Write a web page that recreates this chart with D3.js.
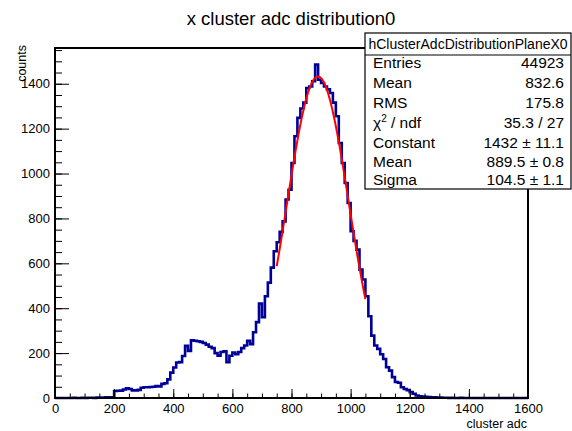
<!DOCTYPE html>
<html>
<head>
<meta charset="utf-8">
<script src="https://cdn.jsdelivr.net/npm/d3@7/dist/d3.min.js"></script>
<style>
  body { margin: 0; background: #fff; }
  svg { font-family: "Liberation Sans", Arial, Helvetica, sans-serif; }
</style>
</head>
<body>
<svg id="chart" width="572" height="431"></svg>
<script>
// histogram: 160 bins of 10 adc, from 0 to 1600
let binWidth = 10;
let binCounts = [
  0, 0, 0, 0, 0, 0, 1, 0, 0, 1,                          // 0 - 90
  0, 1, 1, 0, 2, 1, 2, 3, 2, 3,                          // 100 - 190
  31, 32, 33, 38, 43, 40, 34, 34, 36, 46,                // 200 - 290
  48, 48, 49, 50, 53, 51, 63, 66, 83, 113,               // 300 - 390
  136, 158, 160, 187, 232, 210, 257, 255, 253, 250,      // 400 - 490
  245, 238, 228, 222, 200, 189, 205, 208, 160, 188,      // 500 - 590
  202, 195, 205, 222, 234, 255, 240, 293, 338, 421,      // 600 - 690
  360, 453, 514, 581, 654, 694, 740, 787, 884, 928,      // 700 - 790
  1047, 1166, 1248, 1290, 1316, 1381, 1388, 1411, 1485, 1418, // 800 - 890
  1403, 1388, 1375, 1359, 1316, 1255, 1136, 1047, 958, 869,   // 900 - 990
  743, 700, 661, 572, 528, 453, 364, 278, 234, 219,      // 1000 - 1090
  195, 174, 137, 122, 93, 71, 68, 48, 40, 35,            // 1100 - 1190
  26, 19, 11, 8, 6, 5, 4, 3, 3, 2,                       // 1200 - 1290
  2, 1, 1, 0, 1, 0, 0, 1, 0, 0,                          // 1300 - 1390
  0, 0, 0, 0, 0, 0, 0, 0, 0, 0,                          // 1400 - 1490
  0, 0, 0, 0, 0, 0, 0, 0, 0, 0                           // 1500 - 1590
];

// gaussian fit shown in the stats box
let fitConstant = 1432;
let fitMean = 889.5;
let fitSigma = 104.5;
let fitRange = [750, 1050];

let xTicks = [0, 200, 400, 600, 800, 1000, 1200, 1400, 1600];
let yTicks = [0, 200, 400, 600, 800, 1000, 1200, 1400];

let statsTitle = "hClusterAdcDistributionPlaneX0";
let statNames = ["Entries", "Mean", "RMS", "chi2", "Constant", "Mean", "Sigma"];
let statValues = ["44923", "832.6", "175.8", "35.3 / 27", "1432 \u00b1 11.1", "889.5 \u00b1 0.8", "104.5 \u00b1 1.1"];

function draw(svg) {

  let left = 55, right = 528, top = 48, bottom = 398;
  let graph = d3.select(svg);

  let xScale = d3.scaleLinear().domain([0, 1600]).range([left, right]);
  let yScale = d3.scaleLinear()
      .domain([0, d3.max(binCounts) * 1.05])
      .range([bottom, top]);

  // title
  graph.append("text")
      .attr("x", 291).attr("y", 25)
      .attr("text-anchor", "middle")
      .attr("font-size", "18.5px")
      .text("x cluster adc distribution0");

  // histogram as steps
  let pts = binCounts.map(function(d, i) { return [i * binWidth, d]; });
  pts.push([binCounts.length * binWidth, binCounts[binCounts.length - 1]]);
  let step = d3.line()
      .x(function(d) { return xScale(d[0]); })
      .y(function(d) { return yScale(d[1]); })
      .curve(d3.curveStepAfter);

  graph.append("path")
      .attr("d", step(pts))
      .attr("fill", "none")
      .attr("stroke", "#000099")
      .attr("stroke-width", 2.6);

  // fit curve
  let fitPts = d3.range(fitRange[0], fitRange[1] + 0.1, 2).map(function(x) {
    return [x, fitConstant * Math.exp(-0.5 * Math.pow((x - fitMean) / fitSigma, 2))];
  });
  graph.append("path")
      .attr("d", d3.line()
          .x(function(d) { return xScale(d[0]); })
          .y(function(d) { return yScale(d[1]); })(fitPts))
      .attr("fill", "none")
      .attr("stroke", "#ff0000")
      .attr("stroke-width", 2);

  // axes (ticks point inside the frame like ROOT)
  let xMinor = d3.range(0, 1601, 50);
  let yMinor = d3.range(0, 1551, 50);
  let fmt = d3.format("d");

  graph.append("g")
      .attr("transform", "translate(0," + bottom + ")")
      .call(d3.axisBottom(xScale).tickValues(xMinor).tickSize(-4.5).tickSizeOuter(0).tickFormat(""));
  graph.append("g")
      .attr("transform", "translate(0," + bottom + ")")
      .call(d3.axisBottom(xScale).tickValues(xTicks).tickSize(-9).tickSizeOuter(0).tickPadding(6).tickFormat(fmt));
  graph.append("g")
      .attr("transform", "translate(" + left + ",0)")
      .call(d3.axisLeft(yScale).tickValues(yMinor).tickSize(-7).tickSizeOuter(0).tickFormat(""));
  graph.append("g")
      .attr("transform", "translate(" + left + ",0)")
      .call(d3.axisLeft(yScale).tickValues(yTicks).tickSize(-14).tickSizeOuter(0).tickPadding(5).tickFormat(fmt));

  graph.selectAll(".domain").remove();
  graph.selectAll(".tick line").attr("stroke", "#000").attr("stroke-width", 1);
  graph.selectAll(".tick text")
      .attr("fill", "#000")
      .attr("font-size", "13px")
      .attr("font-family", "Liberation Sans, Arial, sans-serif");

  // frame
  graph.append("rect")
      .attr("x", left).attr("y", top)
      .attr("width", right - left).attr("height", bottom - top)
      .attr("fill", "none")
      .attr("stroke", "#000")
      .attr("stroke-width", 2);

  // axis titles
  graph.append("text")
      .attr("x", 527).attr("y", 428)
      .attr("text-anchor", "end")
      .attr("font-size", "12.5px")
      .text("cluster adc");
  graph.append("text")
      .attr("transform", "translate(26,45) rotate(-90)")
      .attr("text-anchor", "end")
      .attr("font-size", "12.5px")
      .text("counts");

  // stats box
  let bx = 365, bw = 206, by = 33, bh = 156;
  let box = graph.append("g");
  box.append("rect")
      .attr("x", bx).attr("y", by)
      .attr("width", bw).attr("height", bh)
      .attr("fill", "#fff")
      .attr("stroke", "#000")
      .attr("stroke-width", 1.2);
  box.append("line")
      .attr("x1", bx).attr("x2", bx + bw)
      .attr("y1", 55).attr("y2", 55)
      .attr("stroke", "#000").attr("stroke-width", 1.2);
  box.append("text")
      .attr("x", bx + bw / 2).attr("y", 49)
      .attr("text-anchor", "middle")
      .attr("font-size", "14px")
      .text(statsTitle);

  let rowY = [68, 88, 108, 128, 148, 167, 185];
  statNames.forEach(function(name, i) {
    let t = box.append("text")
        .attr("x", bx + 8).attr("y", rowY[i])
        .attr("font-size", "15.5px");
    if (name === "chi2") {
      t.append("tspan").text("\u03c7");
      t.append("tspan").attr("dy", -6).attr("font-size", "10px").text("2");
      t.append("tspan").attr("dy", 6).text(" / ndf");
    } else {
      t.text(name);
    }
    box.append("text")
        .attr("x", bx + bw - 7).attr("y", rowY[i])
        .attr("text-anchor", "end")
        .attr("font-size", "15.5px")
        .text(statValues[i]);
  });
}

draw(document.getElementById("chart"));
</script>
</body>
</html>
